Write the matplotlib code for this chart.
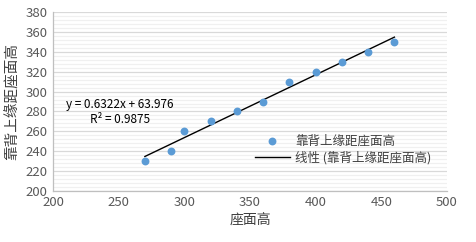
import matplotlib
matplotlib.use("Agg")
import matplotlib.pyplot as plt
import numpy as np
from matplotlib.ticker import MultipleLocator

plt.rcParams["font.family"] = ["Noto Sans CJK SC", "DejaVu Sans"]

# 座面高 / 靠背上缘距座面高
seat_height = [270, 290, 300, 320, 340, 360, 380, 400, 420, 440, 460]
back_height = [230, 240, 260, 270, 280, 290, 310, 320, 330, 340, 350]
series_name = "靠背上缘距座面高"
trend_name = "线性 (靠背上缘距座面高)"
eq_text = "y = 0.6322x + 63.976"
r2_text = "R² = 0.9875"

x = np.array(seat_height)
y = np.array(back_height)
k, b = np.polyfit(x, y, 1)
xs = np.array([x.min(), x.max()])

fig = plt.figure(figsize=(4.77, 2.42), dpi=100)
ax = fig.add_axes([0.111, 0.211, 0.826, 0.739])

ax.scatter(x, y, s=32, color="#5b9bd5", zorder=3, label=series_name, linewidths=0)
ax.plot(xs, k * xs + b, color="black", lw=1.0, zorder=2, label=trend_name)

ax.set_xlim(200, 500)
ax.set_ylim(200, 380)
ax.xaxis.set_major_locator(MultipleLocator(50))
ax.yaxis.set_major_locator(MultipleLocator(20))
ax.yaxis.set_minor_locator(MultipleLocator(4))
ax.grid(axis="y", which="major", color="#d9d9d9", lw=0.9)
ax.grid(axis="y", which="minor", color="#f0f0f0", lw=0.9)
ax.set_axisbelow(True)

for s in ["top", "right"]:
    ax.spines[s].set_visible(False)
for s in ["left", "bottom"]:
    ax.spines[s].set_color("#bfbfbf")
    ax.spines[s].set_linewidth(0.9)
ax.tick_params(which="both", length=0, labelsize=9.5, colors="#595959", pad=4)

ax.set_xlabel("座面高", fontsize=10, color="#404040", labelpad=3)
ax.set_ylabel(series_name, fontsize=10.5, color="#404040", labelpad=4)

# 趋势线公式
ax.text(251, 286.5, eq_text, fontsize=8.5, ha="center", va="center")
ax.text(251, 272.4, r2_text, fontsize=8.5, ha="center", va="center")

ax.legend(loc="lower left", bbox_to_anchor=(0.5, 0.12), frameon=False,
          fontsize=9, labelcolor="#404040", handlelength=2.8,
          handletextpad=0.4, borderaxespad=0, labelspacing=0.3)

fig.savefig("out.png", dpi=100)
